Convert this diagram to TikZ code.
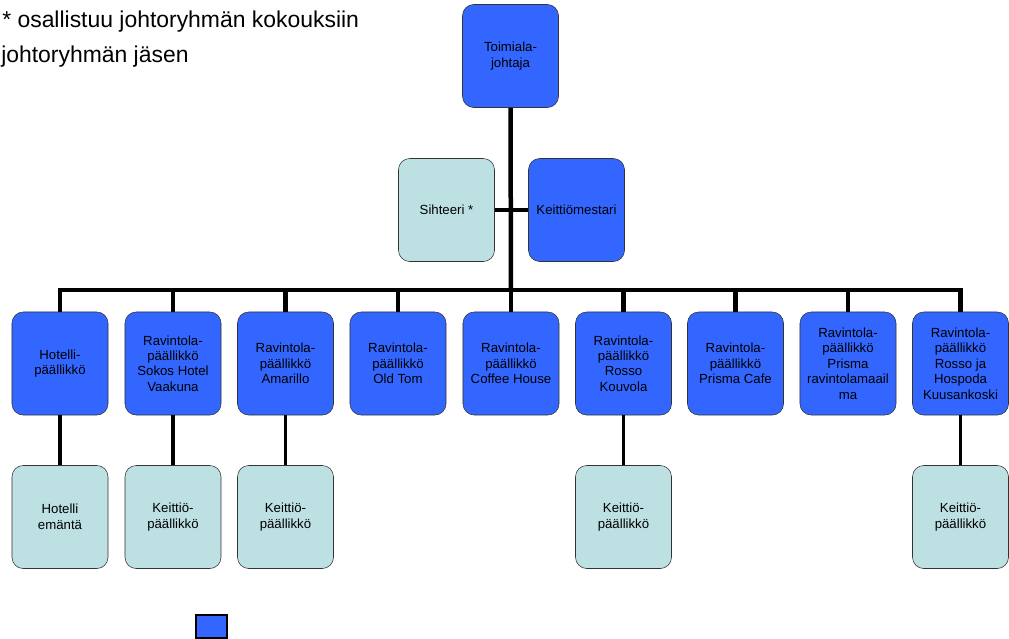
\documentclass[tikz,border=0pt]{standalone}
\usepackage{fontspec}
\setmainfont{Liberation Sans}

\definecolor{chiefblue}{RGB}{51,102,255}
\definecolor{staffcyan}{RGB}{189,224,227}

\tikzset{
  chief/.style={draw=black!80,fill=chiefblue,rounded corners=8pt,
    minimum width=2.4cm,minimum height=2.575cm,inner sep=1pt,
    align=center,font=\fontsize{9.4}{11}\selectfont},
  staff/.style={chief,fill=staffcyan},
  link/.style={line width=3.2pt},
  sublink/.style={line width=2.6pt},
}

\begin{document}
\begin{tikzpicture}[x=0.025cm,y=-0.025cm]
\useasboundingbox (0,0) rectangle (1009,639);

% legend text
\node[anchor=base west,inner sep=0,font=\fontsize{16.3}{19}\selectfont] (note) at (2,27) {* osallistuu johtoryhmän kokouksiin};
\node[anchor=base west,inner sep=0,font=\fontsize{16.3}{19}\selectfont] (member) at (1,62) {johtoryhmän jäsen};
\node[draw,line width=1.5pt,fill=chiefblue,minimum width=0.78cm,minimum height=0.56cm,inner sep=0] (legend) at (211.5,626.5) {};

% top
\node[chief] (toimiala) at (510.5,56) {Toimiala-\\johtaja};
\node[staff] (sihteeri) at (446.5,210) {Sihteeri *};
\node[chief] (mestari) at (576.5,210) {Keittiömestari};
\coordinate (bar) at (511,290);

\draw[link] (toimiala.south) -- (bar);
\draw[link] (sihteeri.east) -- (mestari.west);

% managers
\foreach \i/\x/\txt in {1/60/{Hotelli-\\päällikkö},
    2/173/{Ravintola-\\päällikkö\\Sokos Hotel\\Vaakuna},
    3/285.5/{Ravintola-\\päällikkö\\Amarillo},
    4/398/{Ravintola-\\päällikkö\\Old Tom},
    5/511/{Ravintola-\\päällikkö\\Coffee House},
    6/623.5/{Ravintola-\\päällikkö\\Rosso\\Kouvola},
    7/735.5/{Ravintola-\\päällikkö\\Prisma Cafe},
    8/848/{Ravintola-\\päällikkö\\Prisma\\ravintolamaail\\ma},
    9/960.5/{Ravintola-\\päällikkö\\Rosso ja\\Hospoda\\Kuusankoski}}
  \node[chief] (p\i) at (\x,363.5) {\txt};

\draw[link,line cap=rect] (p1.north |- bar) -- (p9.north |- bar);
\foreach \i in {1,...,9}
  \draw[link] (p\i.north |- bar) -- (p\i.north);

% kitchen and hotel staff
\node[staff] (e1) at (60,517) {Hotelli\\emäntä};
\node[staff] (e2) at (173,517) {Keittiö-\\päällikkö};
\node[staff] (e3) at (285.5,517) {Keittiö-\\päällikkö};
\node[staff] (e6) at (623.5,517) {Keittiö-\\päällikkö};
\node[staff] (e9) at (960.5,517) {Keittiö-\\päällikkö};

\foreach \i in {1,2,3,6,9}
  \draw[sublink] (p\i) -- (e\i);
\end{tikzpicture}
\end{document}
